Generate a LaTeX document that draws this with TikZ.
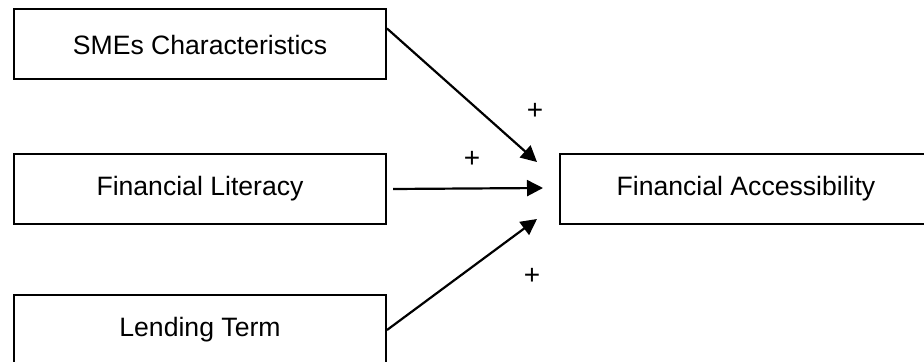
\documentclass[tikz,border=0pt]{standalone}
\usepackage{fontspec}
\setmainfont{Liberation Sans}
\usetikzlibrary{arrows.meta,positioning}

\begin{document}
\begin{tikzpicture}[x=0.5pt,y=-0.5pt,
    varbox/.style={draw, line width=1pt, minimum width=186pt, minimum height=35pt,
      inner sep=0pt, font=\fontsize{13.3}{16}\selectfont},
    link/.style={line width=1.1pt, -{Triangle[length=8pt,width=8pt]}},
    sign/.style={font=\fontsize{14}{16}\selectfont, inner sep=0pt}]
    \useasboundingbox (0,0) rectangle (924,362);

    % independent variables
    \node[varbox] (smes) at (200,44.5) {SMEs Characteristics};
    \node[varbox] (lit) at (200,189) {Financial Literacy};
    \node[varbox] (lend) at (200,330) {Lending Term};

    % dependent variable
    \node[varbox] (access) at (746,189) {Financial Accessibility};

    % arrow tips
    \coordinate (tipA) at (537,162);
    \coordinate (tipB) at (543,188);
    \coordinate (tipC) at (537,219);

    \draw[link] ([yshift=8pt]smes.east) -- (tipA);
    \draw[link] ([xshift=3pt]lit.east) -- (tipB);
    \draw[link] (lend.east) -- (tipC);

    % signs
    \node[sign] (plusA) at (535,111) {+};
    \node[sign] (plusB) at (472,159) {+};
    \node[sign] (plusC) at (532,276) {+};
\end{tikzpicture}
\end{document}
